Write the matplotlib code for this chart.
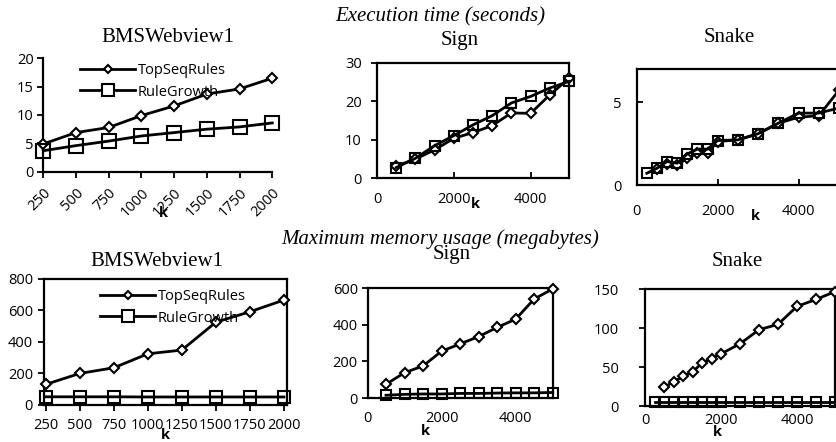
import numpy as np
import matplotlib
matplotlib.use("Agg")
import matplotlib.pyplot as plt
from matplotlib.lines import Line2D

# ---------------- data ----------------
bms_k = [250, 500, 750, 1000, 1250, 1500, 1750, 2000]
bms_time_tsr = [4.9, 6.9, 7.8, 9.9, 11.6, 13.7, 14.6, 16.5]
bms_time_rg = [3.7, 4.6, 5.4, 6.3, 6.9, 7.5, 7.9, 8.6]
bms_mem_tsr = [128, 198, 234, 323, 347, 525, 591, 666]
bms_mem_rg = [49, 49, 49, 48, 48, 48, 48, 48]

sign_k = [500, 1000, 1500, 2000, 2500, 3000, 3500, 4000, 4500, 5000]
sign_time_tsr = [3.2, 5.0, 7.4, 10.4, 11.9, 13.7, 17.0, 16.9, 21.7, 26.0]
sign_time_rg = [2.8, 5.2, 8.5, 11.1, 13.9, 16.3, 19.6, 21.3, 23.5, 25.2]
sign_mem_tsr = [75, 138, 175, 255, 295, 335, 385, 430, 540, 595]
sign_mem_rg = [15, 20, 22, 22, 25, 25, 27, 28, 28, 30]

snake_k = [250, 500, 750, 1000, 1250, 1500, 1750, 2000, 2500, 3000, 3500, 4000, 4500, 5000]
snake_time_tsr = [np.nan, 0.95, 1.28, 1.21, 1.62, 1.92, 1.96, 2.63, 2.73, 3.1, 3.74, 4.1, 4.19, 5.73]
snake_time_rg = [0.71, 1.01, 1.42, 1.32, 1.88, 2.17, 2.17, 2.69, 2.73, 3.10, 3.74, 4.35, 4.35, 4.66]
snake_mem_tsr = [np.nan, 24, 31, 38, 44, 55, 61, 67, 80, 98, 105, 128, 137, 147]
snake_mem_rg = [5.5, 5.5, 5.5, 5.5, 5.5, 5.5, 5.5, 5.5, 5.5, 5.5, 5.5, 5.5, 5.5, 5.5]

series_names = ["TopSeqRules", "RuleGrowth"]
bms_time_yticks = [0, 5, 10, 15, 20]
sign_time_yticks = [0, 10, 20, 30]
snake_time_yticks = [0, 5]
bms_mem_yticks = [0, 200, 400, 600, 800]
sign_mem_yticks = [0, 200, 400, 600]
snake_mem_yticks = [0, 50, 100, 150]
num_xticks = [0, 2000, 4000]

# ---------------- figure ----------------
W, H = 836, 442
fig = plt.figure(figsize=(W / 100, H / 100), dpi=100)
fig.patch.set_facecolor("white")

SANS = "Open Sans"
SERIF = "Liberation Serif"


def add_ax(l, r, t, b):
    return fig.add_axes([l / W, 1 - b / H, (r - l) / W, (b - t) / H])


def ftext(x, y, s, **kw):
    fig.text(x / W, 1 - y / H, s, **kw)


LW = 2.0
EW = 1.5


def draw(ax, x, tsr, rg, ms_sq, ms_d):
    ax.plot(x, tsr, color="black", lw=LW, marker="D", ms=ms_d,
            mfc="white", mec="black", mew=EW, clip_on=False, zorder=3)
    ax.plot(x, rg, color="black", lw=LW, marker="s", ms=ms_sq,
            mfc="none", mec="black", mew=EW, clip_on=False, zorder=3)


def style(ax, box=True):
    for s in ax.spines.values():
        s.set_linewidth(1.6)
        s.set_color("black")
    if not box:
        ax.spines["top"].set_visible(False)
        ax.spines["right"].set_visible(False)
    ax.set_facecolor("white")


def legend(ax, x, y):
    h = [Line2D([], [], color="black", lw=LW, marker="D", ms=4.2, mfc="white", mec="black", mew=EW),
         Line2D([], [], color="black", lw=LW, marker="s", ms=8, mfc="white", mec="black", mew=EW)]
    ax.legend(h, series_names, loc="upper left", bbox_to_anchor=(x / W, 1 - y / H),
              bbox_transform=fig.transFigure, frameon=False,
              prop={"family": SANS, "size": 10.5}, handlelength=3.8,
              handletextpad=0.15, labelspacing=0.45, borderpad=0, borderaxespad=0)


# ---- top-left: BMSWebview1 time ----
ax = add_ax(43.3, 272.3, 58.3, 171.7)
pos = np.arange(len(bms_k))
draw(ax, pos, bms_time_tsr, bms_time_rg, 9.5, 5.4)
ax.set_xlim(0, len(bms_k) - 1)
ax.set_ylim(0, 20)
ax.set_yticks(bms_time_yticks)
ax.set_xticks(pos)
ax.set_xticklabels([str(k) for k in bms_k], rotation=45, ha="right", va="top",
                   rotation_mode="anchor", fontsize=10.5, family=SANS)
ax.tick_params(axis="x", direction="out", length=4, width=1.3, pad=6)
ax.tick_params(axis="y", direction="out", length=4, width=1.3, pad=3, labelsize=10.5)
for t in ax.get_yticklabels():
    t.set_family(SANS)
style(ax, box=False)
legend(ax, 80, 63)

# ---- top-middle: Sign time ----
ax = add_ax(377, 569, 63, 178.3)
draw(ax, sign_k, sign_time_tsr, sign_time_rg, 7.8, 4.8)
ax.set_xlim(0, 5000)
ax.set_ylim(0, 30)
ax.set_xticks(num_xticks)
ax.set_yticks(sign_time_yticks)
ax.tick_params(axis="x", direction="in", length=4, width=1.3, pad=10, labelsize=10.5)
ax.tick_params(axis="y", direction="out", length=4, width=1.3, pad=7, labelsize=10.5)
for t in ax.get_xticklabels() + ax.get_yticklabels():
    t.set_family(SANS)
style(ax)

# ---- top-right: Snake time ----
ax = add_ax(636.7, 839, 69.3, 185)
draw(ax, snake_k, snake_time_tsr, snake_time_rg, 7.8, 4.8)
ax.set_xlim(0, 5000)
ax.set_ylim(0, 7)
ax.set_xticks(num_xticks)
ax.set_yticks(snake_time_yticks)
ax.tick_params(axis="x", direction="in", length=4, width=1.3, pad=14, labelsize=10.5)
ax.tick_params(axis="y", direction="in", length=4, width=1.3, pad=11, labelsize=10.5)
for t in ax.get_xticklabels() + ax.get_yticklabels():
    t.set_family(SANS)
style(ax)

# ---- bottom-left: BMSWebview1 memory ----
ax = add_ax(44, 287, 279, 404.5)
draw(ax, pos, bms_mem_tsr, bms_mem_rg, 9, 5.2)
ax.set_xlim(-0.05, len(bms_k) - 1 + 0.09)
ax.set_ylim(0, 800)
ax.set_yticks(bms_mem_yticks)
ax.set_xticks(pos)
ax.set_xticklabels([str(k) for k in bms_k], fontsize=10.5, family=SANS)
ax.tick_params(axis="x", direction="out", length=4, width=1.3, pad=6)
ax.tick_params(axis="y", direction="out", length=4, width=1.3, pad=4, labelsize=10.5)
for t in ax.get_yticklabels():
    t.set_family(SANS)
style(ax)
legend(ax, 100, 289)

# ---- bottom-middle: Sign memory ----
ax = add_ax(367.5, 552.7, 288, 398)
draw(ax, sign_k, sign_mem_tsr, sign_mem_rg, 7.8, 4.8)
ax.set_xlim(0, 5000)
ax.set_ylim(0, 600)
ax.set_xticks(num_xticks)
ax.set_yticks(sign_mem_yticks)
ax.tick_params(axis="x", direction="in", length=0, pad=9, labelsize=10.5)
ax.tick_params(axis="y", direction="out", length=4, width=1.3, pad=3, labelsize=10.5)
for t in ax.get_xticklabels() + ax.get_yticklabels():
    t.set_family(SANS)
style(ax)

# ---- bottom-right: Snake memory ----
ax = add_ax(645, 835, 289.3, 406)
draw(ax, snake_k, snake_mem_tsr, snake_mem_rg, 7.8, 4.8)
ax.set_xlim(0, 5000)
ax.set_ylim(0, 150)
ax.set_xticks(num_xticks)
ax.set_yticks(snake_mem_yticks)
ax.tick_params(axis="x", direction="in", length=0, pad=5, labelsize=10.5)
ax.tick_params(axis="y", direction="out", length=4, width=1.3, pad=15, labelsize=10.5)
for t in ax.get_xticklabels() + ax.get_yticklabels():
    t.set_family(SANS)
style(ax)

# ---------------- titles / labels ----------------
ftext(168, 38, "BMSWebview1", family=SERIF, fontsize=15, ha="center", va="center")
ftext(460, 40, "Sign", family=SERIF, fontsize=15, ha="center", va="center")
ftext(729, 38, "Snake", family=SERIF, fontsize=15, ha="center", va="center")
ftext(440, 17, "Execution time (seconds)", family=SERIF, style="italic", fontsize=15,
      ha="center", va="center")

ftext(157, 262, "BMSWebview1", family=SERIF, fontsize=15, ha="center", va="center")
ftext(452, 255, "Sign", family=SERIF, fontsize=15, ha="center", va="center")
ftext(737, 262, "Snake", family=SERIF, fontsize=15, ha="center", va="center")
ftext(440, 239, "Maximum memory usage (megabytes)", family=SERIF, style="italic",
      fontsize=15, ha="center", va="center")

for (x, y) in [(163, 213), (475, 204), (755, 216), (165, 435), (425, 431), (717, 432)]:
    ftext(x, y, "k", family=SANS, fontweight="bold", fontsize=10.5, ha="center", va="center")

fig.savefig("out.png", dpi=100, facecolor="white")
